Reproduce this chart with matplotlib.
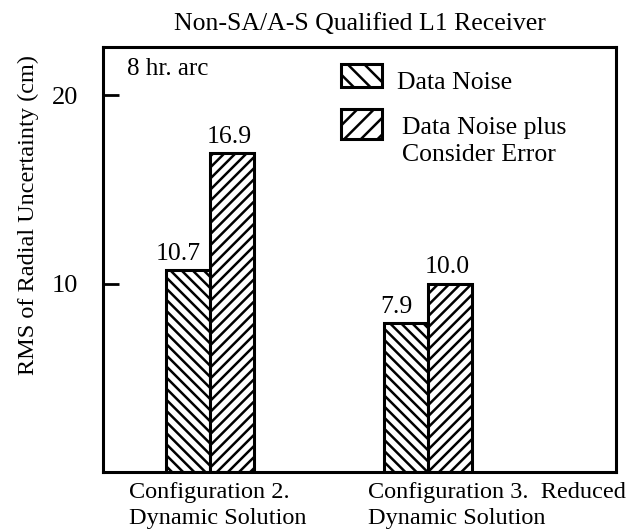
import matplotlib
matplotlib.use("Agg")
import matplotlib.pyplot as plt
from matplotlib.patches import Rectangle
from matplotlib.transforms import blended_transform_factory
import numpy as np

# values
configs = ["Configuration 2.\nDynamic Solution",
           "Configuration 3.  Reduced\nDynamic Solution"]
data_noise = [10.7, 7.9]
noise_plus_consider = [16.9, 10.0]
series_names = ["Data Noise", "Data Noise plus\nConsider Error"]
yticks = [10, 20]

plt.rcParams['font.family'] = ['Liberation Serif', 'DejaVu Serif']
plt.rcParams['hatch.linewidth'] = 1.8

fig = plt.figure(figsize=(6.34, 5.29), dpi=100)
ax = fig.add_axes([0.1625, 0.1078, 0.809, 0.8034])

x = np.arange(len(configs))
w = 0.202
hatches = ['\\\\\\', '///']
label_dx = [-7, -2]
for i, (vals, h) in enumerate(zip([data_noise, noise_plus_consider], hatches)):
    pos = x + (i - 0.5) * w
    ax.bar(pos, vals, width=w, facecolor='white', edgecolor='black',
           linewidth=2.2, hatch=h, zorder=2)
    for px, v in zip(pos, vals):
        ax.annotate(f"{v:.1f}", (px, v), xytext=(label_dx[i], 4),
                    textcoords='offset points', ha='center', va='bottom',
                    fontsize=18.5)

ax.set_xlim(-0.491, 1.862)
ax.set_ylim(0, 22.55)
ax.set_yticks(yticks)
ax.set_yticklabels([str(t) for t in yticks], fontsize=19)
ax.tick_params(axis='y', direction='in', length=11.5, width=2, pad=18)
ax.set_xticks([])
for sp in ax.spines.values():
    sp.set_linewidth(2.2)

ax.set_ylabel("RMS of Radial Uncertainty (cm)", fontsize=17.5)
ax.yaxis.set_label_coords(-0.125, 0.605)
ax.set_title("Non-SA/A-S Qualified L1 Receiver", fontsize=18.5, pad=12)

# category labels, left aligned under each group
trans = blended_transform_factory(ax.transData, ax.transAxes)
label_shift = [-0.372, -0.275]
for xi, lab, s in zip(x, configs, label_shift):
    ax.text(xi + s, -0.023, lab, transform=trans, ha='left', va='top',
            fontsize=17.5, linespacing=1.3)

ax.text(0.047, 0.948, "8 hr. arc", transform=ax.transAxes, ha='left',
        va='center', fontsize=18)

# legend drawn by hand
leg_box = [(0.906, 0.054), (0.784, 0.07)]
txt_pos = [(0.573, 0.915), (0.583, 0.778)]
for (yy, hh), h, name, (tx, ty) in zip(leg_box, ['\\\\', '//'], series_names, txt_pos):
    ax.add_patch(Rectangle((0.464, yy), 0.08, hh, transform=ax.transAxes,
                           facecolor='white', edgecolor='black', linewidth=2.2,
                           hatch=h, zorder=3))
    ax.text(tx, ty, name, transform=ax.transAxes, ha='left', va='center',
            fontsize=18.5, linespacing=1.3, multialignment='left')

fig.savefig("out.png", dpi=100)
